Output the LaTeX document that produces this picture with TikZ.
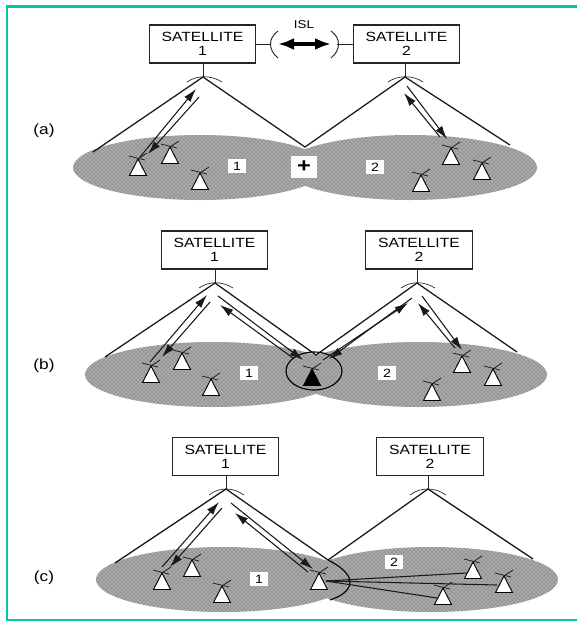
\documentclass[tikz,border=0pt]{standalone}
\usepackage{fontspec}
\setmainfont[FakeStretch=1.18]{Liberation Sans}
\usetikzlibrary{arrows.meta,patterns}
\definecolor{frameteal}{RGB}{0,200,160}
\tikzset{
  x=0.75pt,y=-0.75pt,
  satbox/.style={draw=black!85,line width=0.9pt,fill=white,minimum width=80pt,minimum height=28.5pt,inner sep=0pt,align=center,font=\fontsize{10}{10.5}\selectfont},
  beam/.style={draw=black!90,line width=0.95pt},
  link/.style={draw=black!90,line width=0.8pt,-{Latex[length=10pt,width=6pt]}},
  dish/.style={draw=black!85,line width=0.5pt},
  gsline/.style={draw=black!90,line width=0.55pt},
  tri/.style={draw=black,line width=0.7pt,fill=white},
  cell/.style={fill=black!42,draw=none},
  cellgrain/.style={pattern=crosshatch dots,pattern color=white,draw=none},
  cellnum/.style={fill=white,inner sep=0pt,minimum width=13pt,minimum height=10pt,font=\fontsize{9}{9}\selectfont},
  tag/.style={font=\fontsize{11}{11}\selectfont},
  outline/.style={draw=black,line width=0.85pt},
  terminal/.style={draw=black!90,line width=0.8pt}
}
\newcommand{\earth}[4][white]{%
  \coordinate (#2) at (#3,#4);
  \draw[tri,fill=#1] (#3,#4) -- (#3-8.5,#4+16.5) -- (#3+8.5,#4+16.5) -- cycle;
  \draw[gsline] (#3-9,#4-3) -- (#3+7,#4+1);
  \draw[gsline] (#3+9,#4-6) -- (#3,#4);
}
\newcommand{\cells}[6]{%
  \foreach \cx in {#1,#2}{\fill[cell] (\cx,#3) ellipse [x radius=#4,y radius=#5];
  \fill[cellgrain] (\cx,#3) ellipse [x radius=#4,y radius=#5];}
}
\begin{document}
\begin{tikzpicture}
\useasboundingbox (0,0) rectangle (577,622);
\fill[white] (0,0) rectangle (577,622);
\draw[frameteal,line width=2.2pt] (577,6.5) -- (7,6.5) -- (7,620) -- (577,620);

% ---------- (a)
\cells{200}{410}{167.5}{127}{32.5}{}
\node[satbox] (A1) at (202.5,44) {SATELLITE\\1};
\node[satbox] (A2) at (406.5,44) {SATELLITE\\2};
\coordinate (a1) at (203,77); \coordinate (a2) at (405,77);
\coordinate (aL) at (93,152); \coordinate (aM) at (305,147); \coordinate (aR) at (510,145);
\draw[dish] (A1.south -| a1) -- (a1); \draw[dish] (A2.south -| a2) -- (a2);
\draw[dish] (187,82) .. controls (197,75) and (211,75) .. (222,82);
\draw[dish] (388,82) .. controls (398,75) and (413,75) .. (423,82);
\draw[beam] (aL) -- (a1) -- (aM) -- (a2) -- (aR);
\node[tag] at (44,131) {(a)};
\node[tag,font=\fontsize{8.5}{8.5}\selectfont] at (304,25) {ISL};
\coordinate (islL) at (271,44); \coordinate (islR) at (337,44);
\draw[dish] (A1.east) -- (islL); \draw[dish] (A2.west) -- (islR);
\draw[dish,line width=0.7pt] (278,31) .. controls (268,38) and (268,50) .. (278,58);
\draw[dish,line width=0.7pt] (331,31) .. controls (341,38) and (341,50) .. (331,58);
\draw[line width=3pt,{Latex[length=12pt,width=9pt]}-{Latex[length=12pt,width=9pt]}] (278,44) -- (331,44);
\node[fill=white,minimum width=20pt,minimum height=17pt,inner sep=0pt,font=\bfseries\fontsize{15}{15}\selectfont] (plus) at (304,167) {+};
\node[cellnum] (n1a) at (237,166) {1};
\node[cellnum] (n2a) at (375,167) {2};
\earth{ta1}{138}{159}\earth{ta2}{170}{147}\earth{ta3}{200}{173}
\earth{ta4}{451}{148}\earth{ta5}{482}{163}\earth{ta6}{421}{175}
\coordinate (au1) at (196,89); \coordinate (ad1) at (199,97);
\coordinate (au2) at (404,93); \coordinate (ad2) at (407,86);
\coordinate (at1) at (140,157); \coordinate (at2) at (148,154);
\coordinate (at3) at (440,137); \coordinate (at4) at (447,139);
\draw[link] (at1) -- (au1); \draw[link] (ad1) -- (at2);
\draw[link] (ad2) -- (at4); \draw[link] (at3) -- (au2);

% ---------- (b)
\cells{213}{419}{374.5}{128}{32.5}{}
\node[satbox] (B1) at (214.5,250) {SATELLITE\\1};
\node[satbox] (B2) at (419,250) {SATELLITE\\2};
\coordinate (b1) at (215,283); \coordinate (b2) at (417,283);
\coordinate (bL) at (105,357); \coordinate (bM) at (316,355); \coordinate (bR) at (517,352);
\draw[dish] (B1.south -| b1) -- (b1); \draw[dish] (B2.south -| b2) -- (b2);
\draw[dish] (199,288) .. controls (209,281) and (222,281) .. (233,288);
\draw[dish] (401,288) .. controls (411,281) and (424,281) .. (435,288);
\draw[beam] (bL) -- (b1) -- (bM) -- (b2) -- (bR);
\node[tag] at (44,366) {(b)};
\node[cellnum] (n1b) at (249,373) {1};
\node[cellnum] (n2b) at (387,373) {2};
\earth{tb1}{151}{366}\earth{tb2}{182}{353}\earth{tb3}{211}{379}
\earth{tb4}{462}{356}\earth{tb5}{493}{369}\earth{tb6}{432}{384}
\earth[black]{tb7}{312}{369}
\draw[outline] (314,371) ellipse [x radius=28,y radius=19];
\coordinate (bu1) at (207,295); \coordinate (bd1) at (210,302);
\coordinate (bt1) at (150,362); \coordinate (bt2) at (162,357);
\coordinate (bu2) at (218,296); \coordinate (bd2) at (220,305);
\coordinate (bt3) at (303,360); \coordinate (bt4) at (293,358);
\coordinate (bu3) at (408,303); \coordinate (bd3) at (412,298);
\coordinate (bt5) at (323,360); \coordinate (bt6) at (329,359);
\coordinate (bu4) at (418,303); \coordinate (bd4) at (422,296);
\coordinate (bt7) at (455,348); \coordinate (bt8) at (462,350);
\draw[link] (bt1) -- (bu1); \draw[link] (bd1) -- (bt2);
\draw[link] (bu2) -- (bt3); \draw[link] (bt4) -- (bd2);
\draw[link] (bt5) -- (bu3); \draw[link] (bd3) -- (bt6);
\draw[link] (bd4) -- (bt8); \draw[link] (bt7) -- (bu4);

% ---------- (c)
\cells{223}{431}{579.5}{127}{32.5}{}
\node[satbox] (C1) at (225.5,456.5) {SATELLITE\\1};
\node[satbox] (C2) at (430,456.5) {SATELLITE\\2};
\coordinate (c1) at (226,489); \coordinate (c2) at (428,489);
\coordinate (cL) at (115,563); \coordinate (cM) at (328,560); \coordinate (cR) at (533,559);
\draw[dish] (C1.south -| c1) -- (c1); \draw[dish] (C2.south -| c2) -- (c2);
\draw[dish] (209,495) .. controls (219,487) and (233,487) .. (244,495);
\draw[dish] (410,495) .. controls (420,487) and (435,487) .. (446,495);
\draw[beam] (cL) -- (c1) -- (cM) -- (c2) -- (cR);
\draw[outline] (cM) .. controls (340,566) and (350,574) .. (350,582) .. controls (350,590) and (342,596) .. (330,600);
\node[tag] at (44,578) {(c)};
\node[cellnum] (n1c) at (259,579) {1};
\node[cellnum] (n2c) at (394,562) {2};
\earth{tc1}{162}{573}\earth{tc2}{192}{560}\earth{tc3}{222}{586}
\earth{tc4}{319}{573}\earth{tc5}{473}{562}\earth{tc6}{504}{576}\earth{tc7}{443}{588}
\coordinate (cs) at (326,581);
\coordinate (ce1) at (467,573); \coordinate (ce2) at (497,585); \coordinate (ce3) at (437,598);
\draw[terminal] (cs) -- (ce1); \draw[terminal] (cs) -- (ce2); \draw[terminal] (cs) -- (ce3);
\coordinate (cu1) at (219,502); \coordinate (cd1) at (222,508);
\coordinate (ct1) at (162,567); \coordinate (ct2) at (170,567);
\coordinate (cu2) at (231,503); \coordinate (cd2) at (235,513);
\coordinate (ct3) at (313,569); \coordinate (ct4) at (308,572);
\draw[link] (ct1) -- (cu1); \draw[link] (cd1) -- (ct2);
\draw[link] (cu2) -- (ct3); \draw[link] (ct4) -- (cd2);
\end{tikzpicture}
\end{document}
